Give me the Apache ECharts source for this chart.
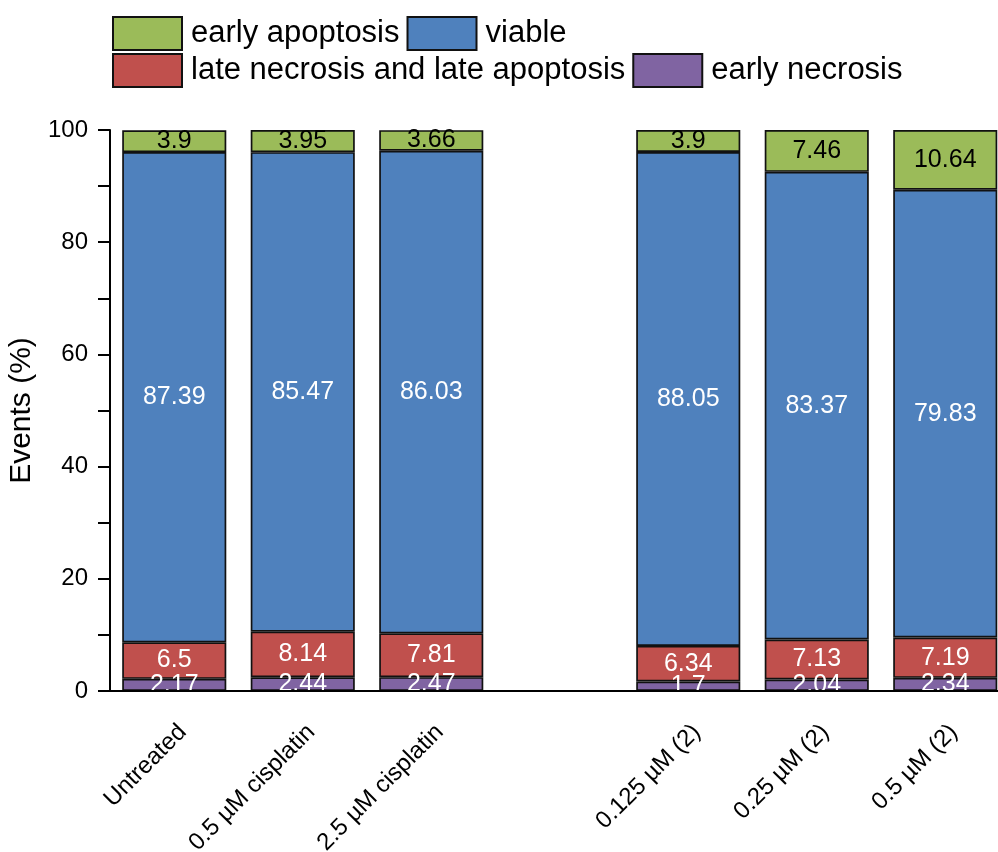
<!DOCTYPE html>
<html>
<head>
<meta charset="utf-8">
<script src="https://cdn.jsdelivr.net/npm/echarts@6/dist/echarts.min.js"></script>
<style>
  html, body { margin: 0; padding: 0; background: #fff; overflow: hidden; }
  #chart { width: 998px; height: 852px; }
</style>
</head>
<body>
<div id="chart"></div>
<script>
// Treatment groups; the blank entry separates the cisplatin controls from compound (2)
const categories = ['Untreated', '0.5 µM cisplatin', '2.5 µM cisplatin', '', '0.125 µM (2)', '0.25 µM (2)', '0.5 µM (2)'];

// Event percentages per population (stacked bottom to top)
const earlyNecrosis = [2.17, 2.44, 2.47, '-', 1.7, 2.04, 2.34];
const lateNecrosisApoptosis = [6.5, 8.14, 7.81, '-', 6.34, 7.13, 7.19];
const viable = [87.39, 85.47, 86.03, '-', 88.05, 83.37, 79.83];
const earlyApoptosis = [3.9, 3.95, 3.66, '-', 3.9, 7.46, 10.64];

const yTicks = { min: 0, max: 100, interval: 20 };

const FONT = '"Liberation Sans", Arial, sans-serif';

function makeSeries(name, data, color, labelColor) {
  return {
    name: name,
    type: 'bar',
    stack: 'events',
    data: data,
    barCategoryGap: '19%',
    itemStyle: { color: color, borderColor: '#111', borderWidth: 1.7 },
    label: {
      show: true,
      position: 'inside',
      color: labelColor,
      fontFamily: FONT,
      fontSize: 25,
      formatter: p => String(p.value)
    },
    emphasis: { disabled: true }
  };
}

const chart = echarts.init(document.getElementById('chart'), null, { renderer: 'canvas' });

const legendCommon = {
  orient: 'horizontal',
  padding: 0,
  itemWidth: 69,
  itemHeight: 33,
  itemGap: 7,
  icon: 'rect',
  textStyle: { fontFamily: FONT, fontSize: 31, color: '#000', padding: [0, 0, 0, 4] },
  selectedMode: false
};

const option = {
  animation: false,
  backgroundColor: '#fff',
  legend: [
    Object.assign({}, legendCommon, { left: 112, top: 16, data: ['early apoptosis', 'viable'] }),
    Object.assign({}, legendCommon, { left: 112, top: 53, data: ['late necrosis and late apoptosis', 'early necrosis'] })
  ],
  // the plot area runs a little past the right edge, so the last bar is cut off
  grid: { left: 110, top: 130, width: 899.5, bottom: 161, containLabel: false, outerBoundsMode: 'none' },
  xAxis: {
    type: 'category',
    data: categories,
    z: 10,
    axisLine: { lineStyle: { color: '#000', width: 2 } },
    axisTick: { alignWithLabel: true, length: 10, lineStyle: { color: '#000', width: 2 } },
    axisLabel: {
      interval: 0,
      rotate: 45,
      align: 'right',
      verticalAlign: 'top',
      margin: 29,
      color: '#000',
      fontFamily: FONT,
      fontSize: 24
    }
  },
  yAxis: {
    type: 'value',
    min: yTicks.min,
    max: yTicks.max,
    interval: yTicks.interval,
    z: 10,
    name: 'Events (%)',
    nameLocation: 'middle',
    nameGap: 62,
    nameTextStyle: { fontFamily: FONT, fontSize: 30, color: '#000' },
    axisLine: { show: true, lineStyle: { color: '#000', width: 2 } },
    axisTick: { show: true, length: 12, lineStyle: { color: '#000', width: 2 } },
    minorTick: { show: true, splitNumber: 2, length: 12, lineStyle: { color: '#000', width: 2 } },
    splitLine: { show: false },
    axisLabel: { color: '#000', fontFamily: FONT, fontSize: 24, margin: 22 }
  },
  series: [
    makeSeries('early necrosis', earlyNecrosis, '#8064A2', '#fff'),
    makeSeries('late necrosis and late apoptosis', lateNecrosisApoptosis, '#C0504D', '#fff'),
    makeSeries('viable', viable, '#4F81BD', '#fff'),
    makeSeries('early apoptosis', earlyApoptosis, '#9BBB59', '#000')
  ]
};

chart.setOption(option);

// Labels near the baseline are cut off at the x axis: mask the strip just below it
const y0 = chart.convertToPixel({ yAxisIndex: 0 }, 0);
chart.setOption({
  graphic: [{
    type: 'rect',
    z: 5,
    shape: { x: 111, y: y0 + 1, width: 900, height: 16 },
    style: { fill: '#fff' },
    silent: true
  }]
});
</script>
</body>
</html>
